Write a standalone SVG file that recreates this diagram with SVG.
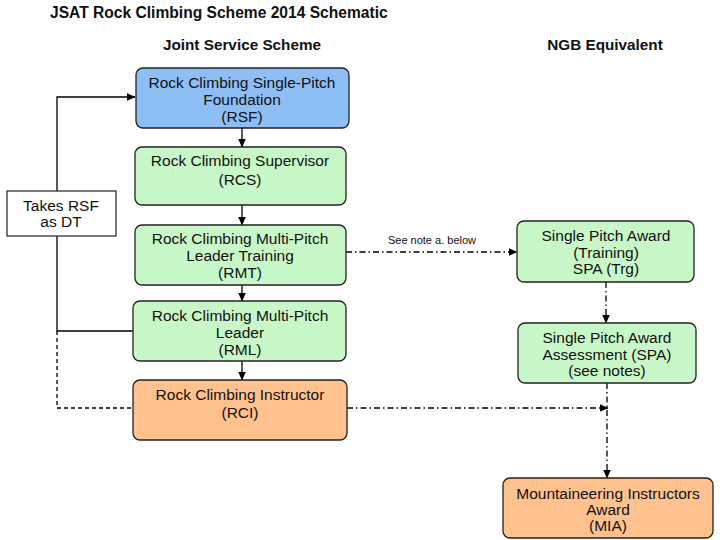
<svg xmlns="http://www.w3.org/2000/svg" width="720" height="540" viewBox="0 0 720 540">
<defs>
<marker id="ah" markerWidth="9" markerHeight="8" refX="8.5" refY="4" orient="auto" markerUnits="userSpaceOnUse">
<path d="M0,0 L9,4 L0,8 Z" fill="#000"/>
</marker>
<style>
.t{font-family:"Liberation Sans",Arial,sans-serif;font-size:15.5px;fill:#111;text-anchor:middle}
.h{font-family:"Liberation Sans",Arial,sans-serif;font-weight:bold;fill:#111}
.box{stroke:#222;stroke-width:1.3}
.blue{fill:#8DBEF6}
.green{fill:#C8F8C8}
.orange{fill:#FFC18E}
.ln{fill:none;stroke:#000;stroke-width:1.3}
.dd{stroke-dasharray:6,3,1.5,3}
.ds{stroke-dasharray:4,3}
</style>
</defs>
<rect width="720" height="540" fill="#fff"/>
<text class="h" x="50" y="18" font-size="15.6">JSAT Rock Climbing Scheme 2014 Schematic</text>
<text class="h" x="242" y="50" font-size="15.3" text-anchor="middle">Joint Service Scheme</text>
<text class="h" x="605" y="50" font-size="15.3" text-anchor="middle">NGB Equivalent</text>

<g id="connectors">
<line class="ln" x1="242" y1="128" x2="242" y2="147" marker-end="url(#ah)"/>
<line class="ln" x1="242" y1="205" x2="242" y2="225" marker-end="url(#ah)"/>
<line class="ln" x1="242" y1="285" x2="242" y2="301" marker-end="url(#ah)"/>
<line class="ln" x1="242" y1="361" x2="242" y2="380" marker-end="url(#ah)"/>
<path class="ln" d="M133,331 H57 V97 H135" marker-end="url(#ah)"/>
<path class="ln ds" d="M57,331 V408 H133"/>
<path class="ln dd" d="M346,252 H517" marker-end="url(#ah)"/>
<text x="432" y="244" font-family="Liberation Sans,Arial,sans-serif" font-size="11" text-anchor="middle" fill="#111">See note a. below</text>
<path class="ln dd" d="M606,282 V323" marker-end="url(#ah)"/>
<path class="ln dd" d="M347,408 H608" marker-end="url(#ah)"/>
<path class="ln dd" d="M607,383 V478" marker-end="url(#ah)"/>
</g>

<g id="rsf">
<rect class="box blue" x="136" y="68" width="213" height="60" rx="7"/>
<text class="t" x="242" y="88">Rock Climbing Single-Pitch</text>
<text class="t" x="242" y="105">Foundation</text>
<text class="t" x="242" y="122">(RSF)</text>
</g>
<g id="rcs">
<rect class="box green" x="135" y="147" width="211" height="58" rx="7"/>
<text class="t" x="240" y="166">Rock Climbing Supervisor</text>
<text class="t" x="240" y="185">(RCS)</text>
</g>
<g id="rmt">
<rect class="box green" x="135" y="225" width="211" height="60" rx="7"/>
<text class="t" x="240" y="244">Rock Climbing Multi-Pitch</text>
<text class="t" x="240" y="261">Leader Training</text>
<text class="t" x="240" y="278">(RMT)</text>
</g>
<g id="rml">
<rect class="box green" x="133" y="301" width="213" height="60" rx="7"/>
<text class="t" x="240" y="321">Rock Climbing Multi-Pitch</text>
<text class="t" x="240" y="338">Leader</text>
<text class="t" x="240" y="355">(RML)</text>
</g>
<g id="rci">
<rect class="box orange" x="133" y="380" width="214" height="60" rx="7"/>
<text class="t" x="240" y="400">Rock Climbing Instructor</text>
<text class="t" x="240" y="418">(RCI)</text>
</g>
<g id="takes">
<rect x="7" y="191" width="109" height="45" fill="#fff" stroke="#222" stroke-width="1.2"/>
<text class="t" x="61" y="211">Takes RSF</text>
<text class="t" x="61" y="227">as DT</text>
</g>
<g id="spatrg">
<rect class="box green" x="517" y="221" width="177" height="61" rx="7"/>
<text class="t" x="606" y="241">Single Pitch Award</text>
<text class="t" x="606" y="258">(Training)</text>
<text class="t" x="606" y="274">SPA (Trg)</text>
</g>
<g id="spa">
<rect class="box green" x="518" y="323" width="178" height="60" rx="7"/>
<text class="t" x="607" y="343">Single Pitch Award</text>
<text class="t" x="607" y="360">Assessment (SPA)</text>
<text class="t" x="607" y="376">(see notes)</text>
</g>
<g id="mia">
<rect class="box orange" x="503" y="478" width="210" height="60" rx="7"/>
<text class="t" x="608" y="499">Mountaineering Instructors</text>
<text class="t" x="608" y="515">Award</text>
<text class="t" x="608" y="531">(MIA)</text>
</g>
</svg>
